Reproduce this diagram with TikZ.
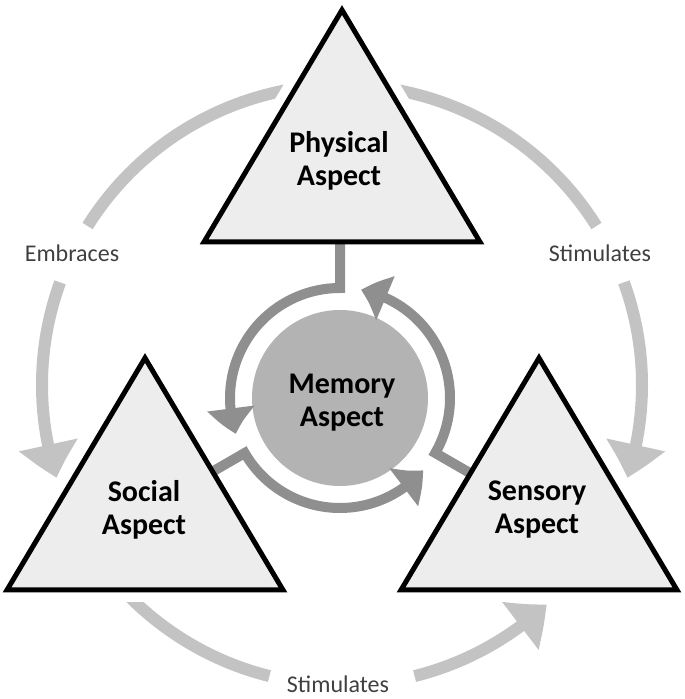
\documentclass[tikz,border=0pt]{standalone}
\usepackage{fontspec}
\setmainfont{Carlito}
\usetikzlibrary{arrows.meta,bending}

\definecolor{trifill}{HTML}{EDEDED}
\definecolor{ringgray}{HTML}{8F8F8F}
\definecolor{memfill}{HTML}{B3B3B3}
\definecolor{outergray}{HTML}{C3C3C3}
\definecolor{labelgray}{HTML}{404040}

\begin{document}
\begin{tikzpicture}[x=1pt,y=1pt,
  tri/.style={draw=black,fill=trifill,line width=5pt,line join=miter},
  halo/.style={draw=white,line width=24pt,line join=miter},
  aspect/.style={align=center,inner sep=0pt,font=\fontsize{30}{33}\selectfont\bfseries},
  memcirc/.style={circle,fill=memfill,minimum size=176pt,inner sep=0pt},
  lbl/.style={anchor=base,inner sep=0pt,text=labelgray,font=\fontsize{24}{28}\selectfont},
  outerline/.style={draw=outergray,line width=12pt},
  outerarr/.style={outerline,-{Triangle[length=34pt,width=58pt,bend]}},
  ringarr/.style={draw=ringgray,line width=10pt,line join=miter,
                  -{Triangle[length=26pt,width=46pt,bend]}}]
\useasboundingbox (0,0) rectangle (685,699);
% centres
\coordinate (outer) at (342,314);
\foreach \n/\x/\y in {phys/342/689,soc/145/341,sens/539/341}
  \coordinate (\n) at (\x,\y);
% outer arcs
\draw[outerline] ([shift={(100:300)}]outer) arc[start angle=100,end angle=148,radius=300];
\draw[outerarr] ([shift={(160:300)}]outer) arc[start angle=160,end angle=198,radius=300];
\draw[outerline] ([shift={(80:300)}]outer) arc[start angle=80,end angle=32,radius=300];
\draw[outerarr] ([shift={(20:300)}]outer) arc[start angle=20,end angle=-18,radius=300];
\draw[outerline] ([shift={(220:300)}]outer) arc[start angle=220,end angle=256,radius=300];
\draw[outerarr] ([shift={(284:300)}]outer) arc[start angle=284,end angle=313,radius=300];
\node[lbl] (embr) at (72,437) {Embraces};
\node[lbl] (stimR) at (600,437) {Stimulates};
\node[lbl] (stimB) at (338,6) {Stimulates};
% white gaps round the triangles
\foreach \n in {phys,soc,sens}
  \draw[halo] (\n) -- ++(138,-232) -- ++(-276,0) -- cycle;
% inner cycle
\node[memcirc] (mem) at (340,301) {};
\node[aspect] (memT) at (342,296) {Memory\\Aspect};
\draw[ringarr] ([shift={(90:165)}]mem.center) -- ([shift={(90:110)}]mem.center)
  arc[start angle=90,end angle=199,radius=110];
\draw[ringarr] ([shift={(210:165)}]mem.center) -- ([shift={(210:110)}]mem.center)
  arc[start angle=210,end angle=319,radius=110];
\draw[ringarr] ([shift={(330:165)}]mem.center) -- ([shift={(330:110)}]mem.center)
  arc[start angle=330,end angle=439,radius=110];
% triangles
\foreach \n in {phys,soc,sens}
  \draw[tri] (\n) -- ++(138,-232) -- ++(-276,0) -- cycle;
\node[aspect] (physT) at (339,538) {Physical\\Aspect};
\node[aspect] (socT) at (144,189) {Social\\Aspect};
\node[aspect] (sensT) at (537,189) {Sensory\\Aspect};
\end{tikzpicture}
\end{document}
